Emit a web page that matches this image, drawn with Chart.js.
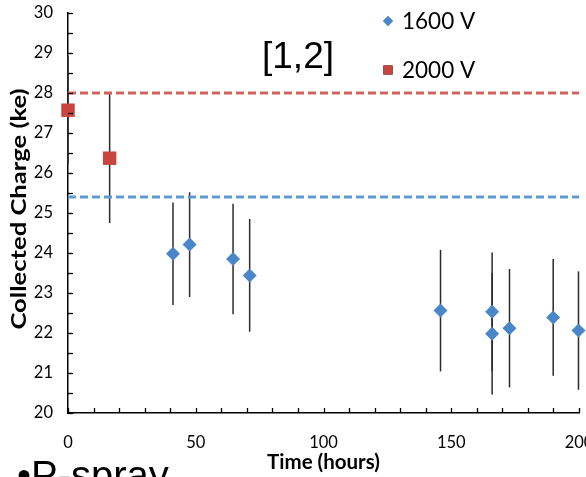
<!DOCTYPE html>
<html>
<head>
<meta charset="utf-8">
<script src="https://cdn.jsdelivr.net/npm/chart.js@4.4.1/dist/chart.umd.min.js"></script>
<style>
  html, body { margin: 0; padding: 0; background: #fff; overflow: hidden; width: 586px; height: 477px; }
  #wrap { position: relative; width: 600px; height: 477px; }
</style>
</head>
<body>
<div id="wrap"><canvas id="c" width="600" height="477"></canvas></div>
<script>
// ---- data ----
const hours1600  = [41.1, 47.6, 64.6, 71.1, 145.8, 166.0, 166.0, 172.8, 189.9, 199.8];
const charge1600 = [23.98, 24.21, 23.85, 23.44, 22.56, 22.53, 21.98, 22.12, 22.39, 22.06];
const err1600    = [1.28, 1.31, 1.38, 1.41, 1.52, 1.48, 1.52, 1.48, 1.46, 1.48];
const hours2000  = [0, 16.3];
const charge2000 = [27.57, 26.37];
const err2000    = [1.35, 1.62];
const ref1600 = 25.4;
const ref2000 = 28.0;
const xRange = [0, 200];
const yRange = [20, 30];
const seriesLabels = ['1600 V', '2000 V'];
const xTitle = 'Time (hours)';
const yTitle = 'Collected Charge (ke)';
const annotationText = '[1,2]';
const bottomText = '\u2022P-spray';

const BLUE = '#4a86c8';
const RED = '#c8453f';
const BLUE_DASH = '#5f9bd3';
const RED_DASH = '#d3625f';

const pts = (xs, ys) => xs.map((x, i) => ({x: x, y: ys[i]}));

const errorBars = {
  id: 'errorBars',
  beforeDatasetsDraw(chart) {
    const {ctx, scales: {x, y}} = chart;
    ctx.save();
    ctx.strokeStyle = '#2b2b2b';
    ctx.lineWidth = 1.5;
    const draw = (xs, ys, es) => {
      xs.forEach((h, i) => {
        const px = x.getPixelForValue(h);
        ctx.beginPath();
        ctx.moveTo(px, y.getPixelForValue(ys[i] + es[i]));
        ctx.lineTo(px, y.getPixelForValue(ys[i] - es[i]));
        ctx.stroke();
      });
    };
    draw(hours2000, charge2000, err2000);
    draw(hours1600, charge1600, err1600);
    ctx.restore();
  }
};

const decor = {
  id: 'decor',
  afterDraw(chart) {
    const {ctx, scales: {x, y}, chartArea} = chart;
    ctx.save();
    // inward tick marks
    ctx.strokeStyle = '#000';
    ctx.lineWidth = 1.3;
    y.ticks.forEach(t => {
      const py = Math.round(y.getPixelForValue(t.value)) + 0.5;
      ctx.beginPath();
      ctx.moveTo(chartArea.left, py);
      ctx.lineTo(chartArea.left + 5, py);
      ctx.stroke();
    });
    x.ticks.forEach(t => {
      const px = Math.round(x.getPixelForValue(t.value)) + 0.5;
      ctx.beginPath();
      ctx.moveTo(px, chartArea.bottom);
      ctx.lineTo(px, chartArea.bottom - 5);
      ctx.stroke();
    });
    // y-axis title (slightly stretched along its length, as in the reference)
    ctx.save();
    ctx.translate(19.5, 209);
    ctx.rotate(-Math.PI / 2);
    ctx.scale(1.22, 1);
    ctx.font = 'bold 21px Lato';
    ctx.textAlign = 'center';
    ctx.textBaseline = 'middle';
    ctx.fillStyle = '#000';
    ctx.fillText(yTitle, 0, 0);
    ctx.restore();
    // legend
    const ds = chart.data.datasets;
    const legendItems = [
      {ds: ds[2], text: seriesLabels[0], y: 21, r: 5},
      {ds: ds[3], text: seriesLabels[1], y: 70, r: 6.5}
    ];
    ctx.font = '22.5px Lato';
    ctx.textBaseline = 'middle';
    ctx.textAlign = 'left';
    legendItems.forEach(it => {
      Chart.helpers.drawPoint(ctx, {
        pointStyle: it.ds.pointStyle, radius: it.r, borderWidth: 0
      }, 388, it.y);
      ctx.fillStyle = it.ds.backgroundColor;
      ctx.fill();
      ctx.fillStyle = '#000';
      ctx.fillText(it.text, 402, it.y + 1);
    });
    // annotation
    ctx.font = '37px "Liberation Sans"';
    ctx.textBaseline = 'alphabetic';
    ctx.fillStyle = '#000';
    ctx.fillText(annotationText, 262, 68);
    // bottom text
    ctx.font = '40px "Liberation Sans"';
    ctx.fillText(bottomText, 17, 489);
    ctx.restore();
  }
};

new Chart(document.getElementById('c'), {
  type: 'scatter',
  data: {
    datasets: [
      { label: 'ref2000', type: 'line', data: pts(xRange, [ref2000, ref2000]),
        borderColor: RED_DASH, borderWidth: 3, borderDash: [8, 4], pointRadius: 0, showLine: true, clip: false },
      { label: 'ref1600', type: 'line', data: pts(xRange, [ref1600, ref1600]),
        borderColor: BLUE_DASH, borderWidth: 3, borderDash: [8, 4], pointRadius: 0, showLine: true, clip: false },
      { label: seriesLabels[0], data: pts(hours1600, charge1600), pointStyle: 'rectRot',
        pointRadius: 7, backgroundColor: BLUE, borderColor: BLUE, borderWidth: 0, clip: false },
      { label: seriesLabels[1], data: pts(hours2000, charge2000), pointStyle: 'rect',
        pointRadius: 9.5, backgroundColor: RED, borderColor: RED, borderWidth: 0, clip: false }
    ]
  },
  options: {
    responsive: false,
    animation: false,
    layout: { padding: { left: 0, right: 21, top: 13, bottom: 0 } },
    plugins: { legend: { display: false }, tooltip: { enabled: false } },
    scales: {
      x: {
        type: 'linear', min: xRange[0], max: xRange[1],
        border: { display: true, color: '#000', width: 1.5 },
        grid: { display: false, drawTicks: false },
        ticks: {
          stepSize: 10, autoSkip: false, maxRotation: 0, padding: 20,
          color: '#000', font: { family: 'Lato', size: 16.5 },
          callback: v => (v % 50 === 0 ? String(v) : '')
        },
        title: { display: true, text: xTitle, color: '#000',
          font: { family: 'Lato', size: 20.5, weight: 'bold' }, padding: { top: 0, bottom: 2 } },
        afterFit: s => { s.height = 64; s.paddingLeft = 0; s.paddingRight = 0; }
      },
      y: {
        type: 'linear', min: yRange[0], max: yRange[1],
        border: { display: true, color: '#000', width: 1.5 },
        grid: { display: false, drawTicks: false },
        ticks: {
          stepSize: 0.5, autoSkip: false, padding: 15,
          color: '#000', font: { family: 'Lato', size: 16.5 },
          callback: v => (Number.isInteger(v) ? String(v) : '')
        },
        title: { display: false },
        afterFit: s => { s.width = 68; s.paddingTop = 0; s.paddingBottom = 0; }
      }
    }
  },
  plugins: [errorBars, decor]
});
</script>
</body>
</html>
